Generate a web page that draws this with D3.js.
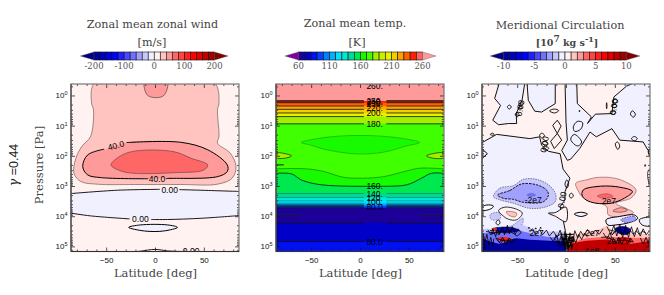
<!DOCTYPE html>
<html>
<head>
<meta charset="utf-8">
<script src="https://cdnjs.cloudflare.com/ajax/libs/d3/7.8.5/d3.min.js"></script>
<style>
  html, body { margin: 0; padding: 0; background: #fff; }
  svg { display: block; }
  .title { font-family: "DejaVu Serif", serif; fill: #444; text-anchor: middle; }
  .cbtick { font-family: "DejaVu Serif", serif; font-size: 8.5px; fill: #555; text-anchor: middle; }
  .tick text, .ylab { font-family: "Liberation Sans", sans-serif; font-size: 8px; fill: #111; }
  .clab { font-family: "Liberation Sans", sans-serif; font-size: 8.5px; fill: #000; text-anchor: middle; }
</style>
</head>
<body>
<div id="chart"></div>
<script>
// all contours are [latitude in deg, log10 of pressure in Pa]
const latMajor = [-50, 0, 50];
const latMinor = [-80, -70, -60, -40, -30, -20, -10, 10, 20, 30, 40, 60, 70, 80];
const logTicks = [0, 1, 2, 3, 4, 5];
const pressureMinor = [0.5, 2, 3, 4, 5, 6, 7, 8, 9, 20, 30, 40, 50, 60, 70, 80, 90, 200, 300, 400, 500, 600, 700, 800, 900,
  2000, 3000, 4000, 5000, 6000, 7000, 8000, 9000, 20000, 30000, 40000, 50000, 60000, 70000, 80000, 90000, 130000];

// colour bars
const windColors = ["#000080", "#0000a0", "#0000c0", "#0000e0", "#0000ff", "#2020ff", "#4848ff", "#7070ff", "#a0a0ff", "#c8c8ff", "#f0f0ff",
  "#fff2f0", "#ffc4c0", "#ff9a9a", "#ff6666", "#ff4444", "#ff2020", "#ff0000", "#e00000", "#c00000", "#a00000", "#800000"];
const windLevels = d3.range(-200, 201, 20);
const windTicks = [-200, -100, 0, 100, 200];
const circLevels = d3.range(-10, 11, 1);
const circTicks = [-10, -5, 0, 5, 10];
const tempLevels = d3.range(60, 261, 10);
const tempTicks = [60, 110, 160, 210, 260];
const tempColors = ["#8000a0", "#1c0098", "#0000c8", "#0010f0", "#0040ff", "#0080ff", "#00b0ff", "#00e0ff", "#00e8d0", "#00d8a0", "#00e850",
  "#18fa00", "#40ff00", "#a0f000", "#c8f000", "#e8f000", "#f0d000", "#ffa000", "#ff6000", "#ff2000", "#ff6060", "#ff9a9a"];

// zonal wind
const windPos20 = [[-61, -0.45], [-65, 0.25], [-63, 0.47], [-66, 1.36], [-75, 1.69], [-81, 2.08], [-83, 2.58], [-76, 2.85], [-59, 2.94], [-21, 2.95], [26, 2.95], [64, 2.94], [79, 2.74], [83, 2.36], [77, 1.91], [64, 1.58], [65.5, 1.36], [64, 0.47], [65.5, 0.25], [60, -0.45]];
const windPos40 = [[-28, 1.55], [26, 1.55], [54, 1.8], [74, 2.3], [74, 2.52], [64, 2.69], [13, 2.75], [-56, 2.72], [-69, 2.63], [-74, 2.36], [-69, 1.97], [-52, 1.8]];
const windPos40LineA = [[-29, 1.56], [26, 1.55], [54, 1.8], [74, 2.3], [74, 2.52], [64, 2.69], [13, 2.75], [11, 2.76]];
const windPos40LineB = [[-7, 2.76], [-56, 2.72], [-69, 2.63], [-74, 2.36], [-69, 1.97], [-52, 1.78]];
const windPos60 = [[-45, 2.3], [-33.5, 1.97], [-18, 1.83], [19, 1.86], [37, 2.08], [54, 2.3], [50, 2.47], [19, 2.56], [-21.5, 2.58], [-35, 2.5]];
const windTopLobe = [[-10.5, -0.45], [-8, -0.02], [0, 0.07], [9, 0], [12.6, -0.45]];
const windZeroUpper = [[-86, 3.25], [-38.5, 3.14], [6, 3.11], [47, 3.14], [86, 3.18]];
const windZeroLower = [[-86, 3.9], [-66, 3.99], [-28, 4.09], [13, 4.11], [47, 4.07], [86, 3.98]];
const windZeroLines = [
  [[-86, 3.25], [-38.5, 3.14], [5, 3.11]], [[25, 3.12], [47, 3.14], [86, 3.18]],
  [[-86, 3.9], [-66, 3.99], [-26, 4.09]], [[-4, 4.11], [13, 4.11], [47, 4.07], [86, 3.98]],
  [[-30, 5.2], [-15, 5.16], [0, 5.1], [13, 5.15], [28, 5.17]], [[47, 5.17], [86, 5.2]]
];
const windLens = [[-27, 4.37], [-15, 4.29], [13, 4.29], [23, 4.37], [9, 4.49], [-11, 4.49]];
const windLabels = ["40.0", "40.0", "0.00", "0.00", "0.00"];
const windLabelPos = [[-40, 1.66], [2, 2.78], [15, 3.12], [-15, 4.09], [37, 5.16]];

// temperature, flat bands: edge pressure and the value of the band under it
const tempEdgeLog = [0.18, 0.24, 0.35, 0.46, 0.58, 0.70, 0.94];
const tempEdgeValue = [245, 235, 225, 215, 205, 185, 175];
const tempDeepLog = [3.25, 3.38, 3.49, 3.57, 3.63, 3.67, 3.72, 4.22, 4.84];
const tempDeepValue = [145, 135, 125, 115, 105, 95, 65, 75, 85];
const tempWavy1 = [[-86, 2.43], [-55, 2.43], [-37, 2.52], [-17, 2.71], [3, 2.74], [24, 2.69], [48, 2.5], [61, 2.41], [86, 2.43]];
const tempWavy2 = [[-86, 2.58], [-70, 2.6], [-60, 2.8], [-44, 2.94], [-20, 3], [3, 3.01], [24, 3.01], [48, 2.96], [63, 2.74], [73, 2.58], [86, 2.58]];
const tempLens = [[-60, 1.56], [-27, 1.36], [27, 1.36], [61, 1.56], [48, 1.67], [24, 1.88], [-3, 1.94], [-34, 1.8], [-51, 1.64]];
const tempSideL = [[-86, 1.91], [-75, 1.94], [-70, 2], [-77, 2.08], [-86, 2.06]];
const tempSideR = [[86, 1.91], [73, 1.94], [68, 2], [75, 2.08], [86, 2.06]];
const tempStubs = [[[-86, 2.3], [-78, 2.3]], [[-86, 3.95], [-61, 3.95]], [[61, 3.95], [86, 3.95]]];
const tempLabels = ["260.", "250.", "240.", "230.", "220.", "200.", "180.", "160.", "140.", "120.", "100.", "80.0", "80.0"];
const tempLabelLog = [-0.3, 0.17, 0.22, 0.28, 0.42, 0.57, 0.95, 2.99, 3.25, 3.4, 3.53, 3.7, 4.85];

// meridional circulation, blue and red lobes
const circBlueA = [[-68, -0.45], [-73, 0.1], [-67, 0.33], [-75, 0.82], [-69, 0.97], [-59, 0.93], [-50.5, 0.93], [-51, 0.6], [-45, 0.16], [-42, -0.45]];
const circBlueB = [[-40, -0.45], [-38.6, 0.16], [-32, 0.52], [-25, 0.55], [-11, 0.27], [-11, -0.45]];
const circBlueC = [[-1, -0.45], [0, 0.88], [1.4, 1.48], [-4.4, 1.82], [1.4, 2.15], [4.8, 2.11], [14, 1.76], [24.6, 1.21], [31, 1.37], [47, 1.1], [55, 1.48], [79, 1.54], [84, 1.82], [88, 1.93], [88, -0.45], [72, -0.45], [62, -0.31], [49, 0.05], [47, 0.6], [30, 0.62], [22, 0.93], [26, 0.71], [11.6, 0.27], [11, -0.45]];
const circBlueD = [[-88, 1.6], [-71, 1.29], [-37, 1.43], [-27, 1.37], [-25, 1.65], [-18, 1.85], [-6, 1.93], [-3, 2.44], [4, 2.74], [-1, 3.19], [-1, 3.46], [-6, 3.68], [-4, 3.95], [0, 4.6], [0, 5.3], [-88, 5.3]];
const circLoops = [
  [[-60, 0.38], [-58, 0.32], [-56, 0.38], [-58, 0.45]], [[-48.5, 0.3], [-45.7, 0.21], [-43.7, 0.25], [-45.7, 0.35]],
  [[-49, 0.44], [-46.5, 0.37], [-44.7, 0.41], [-47, 0.48]], [[-52, 0.62], [-50, 0.57], [-48, 0.63], [-50, 0.71]],
  [[-77.5, 1.29], [-75.5, 1.25], [-73.4, 1.29], [-75.5, 1.32]], [[-17, 0.51], [-12, 0.45], [-7.5, 0.5], [-11.6, 0.58]],
  [[-13.6, 0.99], [-8.9, 0.82], [-5, 1.01], [-8.9, 1.26], [-15.7, 1.52], [-12, 1.76], [-4.4, 1.48], [-8.9, 1.26]],
  [[7.5, 1.04], [11.6, 0.86], [17, 0.9], [15, 1.12], [9, 1.19]], [[4.8, 1.45], [8.5, 1.29], [16, 1.54], [12.6, 1.67], [9, 1.63]],
  [[-27, 1.32], [-25, 1.25], [-22, 1.32], [-24.6, 1.41]], [[-24, 1.57], [-21.5, 1.51], [-18.4, 1.61], [-21, 1.67]],
  [[-24, 1.74], [-20.8, 1.68], [-17.7, 1.75], [-20.8, 1.82]], [[47.4, 0.22], [50, 0.11], [52.6, 0.16], [50, 0.28]],
  [[47, 0.35], [50, 0.29], [52, 0.34], [49.5, 0.41]], [[41.6, 0.24], [42, 0.33], [41.6, 0.44], [41.3, 0.33]],
  [[45.7, 0.57], [48.5, 0.49], [51, 0.55], [48.5, 0.63]], [[66, 0.62], [68, 0.51], [71, 0.62], [69, 0.72]],
  [[67, 1.43], [70, 1.36], [73, 1.43], [70, 1.5]], [[50.5, 1.6], [52.6, 1.54], [55, 1.67], [53, 1.79]],
  [[13.4, 0.5], [14.2, 0.5], [13.8, 0.54]], [[80.6, 2.3], [81.5, 2.3], [81, 2.35]],
  [[-71.7, 4.21], [-69, 4.12], [-67.6, 4.23], [-70, 4.29]], [[3.4, 3.3], [5.8, 3.24], [7.5, 3.33], [5, 3.4]],
  [[0.7, 2.8], [2.7, 2.91], [1, 3.07], [-1, 2.95]]
];
const circEdgeBlobs = [[[-88, 1.71], [-80.5, 1.93], [-88, 2.15]], [[88, 1.65], [84, 1.87], [88, 2.15]]];
const circNeg1 = [[-74.4, 3.35], [-67.5, 3.07], [-54, 2.99], [-43.7, 2.78], [-30, 2.78], [-18, 2.96], [-11, 3.24], [-11, 3.52], [-21.5, 3.7], [-37, 3.74], [-54, 3.57], [-67.5, 3.46]];
const circNeg2 = [[-70, 3.3], [-57.6, 3.15], [-45.4, 2.93], [-30, 2.96], [-20, 3.13], [-18, 3.3], [-23, 3.52], [-43.7, 3.54], [-54, 3.44], [-64, 3.41]];
const circNeg3 = [[-40, 3.3], [-36, 3.24], [-31, 3.3], [-36, 3.35]];
const circPos1 = [[12, 3.13], [10, 2.91], [20.5, 2.8], [34, 2.71], [54.6, 2.78], [71.7, 3.13], [66.5, 3.4], [51, 3.57], [62, 3.75], [69, 3.88], [55, 4.02], [43, 3.95], [42, 3.7], [30, 3.5], [18, 3.4]];
const circPos2 = [[16.4, 3.3], [17.7, 3.13], [30.7, 3.02], [51, 3.02], [68, 3.18], [60, 3.4], [46, 3.57], [30.7, 3.57], [20.5, 3.46]];
const circPos3 = [[32, 3.33], [43, 3.26], [48, 3.35], [39, 3.41]];
const circPos4 = [[48, 3.83], [56, 3.72], [63, 3.8], [56, 3.87]];
const circPinkLobe = [[-69, 3.81], [-62.5, 3.7], [-50.5, 3.77], [-44.7, 3.9], [-50.5, 4.12], [-59, 4.1], [-64, 4]];
const circPinkCore = [[-61, 3.85], [-50.5, 3.9], [-52, 4.02], [-59, 3.96]];
const circTongue = [[0, 3.7], [-11, 3.88], [-18, 3.9], [-11, 4], [0, 4.18]];
const circPaleL = [[-86, 3.7], [-81, 3.63], [-74.4, 3.66], [-76, 3.74], [-86, 3.81]];
const circDashL = [[[-78, 3.96], [-69, 3.88], [-67, 4.07], [-76, 4.12]], [[-61, 4.4], [-54, 4.29], [-44, 4.07], [-45.4, 4.29], [-57, 4.45]]];
const circEllipse = [[8.5, 3.93], [15.4, 3.87], [22, 3.93], [15.4, 4.01]];
const circWhiteLobe = [[41, 4.12], [54.6, 4.01], [70, 3.96], [73.4, 4.07], [65, 4.21], [51, 4.29], [42.7, 4.29]];
const circWhiteCore = [[56, 4.12], [70, 4.01], [71.7, 4.12], [61, 4.21]];
const circRightBlob = [[75, 4.12], [88, 4.05], [88, 4.31], [78, 4.29]];
const circRightTop = [[84, 2.5], [88, 2.4], [88, 3], [85, 2.9]];
const circBotBlue1 = [[-88, 4.4], [-67.6, 4.45], [-44, 4.29], [-26.6, 4.51], [0, 4.51], [0, 5.3], [-88, 5.3]];
const circBotBlue2 = [[-88, 4.57], [-71, 4.51], [-54, 4.37], [-44, 4.51], [-20, 4.68], [0, 4.73], [0, 5.3], [-88, 5.3]];
const circBotBlue3 = [[-88, 4.7], [-78, 4.84], [-67.6, 4.92], [-50.5, 4.73], [-37, 4.78], [0, 4.84], [0, 5.3], [-88, 5.3]];
const circBlueStrip = [[-76, 4.42], [-60, 4.36], [-48, 4.47], [-62, 4.55]];
const circRedPatches = [[[-70, 4.73], [-60, 4.7], [-55, 4.78], [-66, 4.83]], [[-76, 4.4], [-70, 4.42], [-72, 4.48]]];
const circBotRed1 = [[0, 4.73], [17, 4.56], [34, 4.43], [43, 4.29], [46, 4.51], [88, 4.62], [88, 5.3], [0, 5.3]];
const circBotRed2 = [[3.4, 4.9], [20.5, 4.73], [41, 4.68], [88, 4.73], [88, 5.3], [3.4, 5.3]];
const circBotRed3 = [[1.7, 4.98], [10, 4.87], [20.5, 4.81], [41, 4.77], [65, 4.92], [88, 4.81], [88, 5.3], [1.7, 5.3]];
const circRightBlue = [[50, 4.42], [58, 4.34], [66, 4.44], [63, 4.6], [53, 4.55]];
const circRightRed = [[53, 4.75], [66, 4.75], [66, 4.88], [56, 4.9]];
const circScribbles = [
  [[-80, 4.45], [-77, 4.62], [-75, 4.42], [-72, 4.68], [-70, 4.4], [-68, 4.6], [-65, 4.36], [-63, 4.62], [-60, 4.3], [-58, 4.58], [-55, 4.34], [-52, 4.6], [-49, 4.42], [-46, 4.55], [-50, 4.66], [-58, 4.48], [-66, 4.52], [-74, 4.56], [-82, 4.5]],
  [[-78, 4.48], [-74, 4.46], [-76, 4.6], [-71, 4.5], [-69, 4.62], [-66, 4.42], [-62, 4.56], [-60, 4.38], [-57, 4.52], [-54, 4.4], [-51, 4.52]],
  [[-72, 4.72], [-68, 4.88], [-65, 4.7], [-62, 4.9], [-58, 4.72], [-55, 4.86], [-52, 4.75], [-58, 4.8], [-66, 4.8], [-72, 4.72]],
  [[-70, 4.78], [-67, 4.92], [-64, 4.76], [-61, 4.95], [-59, 4.76], [-56, 4.9], [-53, 4.8]],
  [[-85, 4.55], [-83, 4.85], [-81, 4.6], [-79, 4.95], [-77, 4.7], [-75, 5], [-74, 4.75]],
  [[-38, 4.5], [-34, 4.42], [-31, 4.6], [-27, 4.44], [-24, 4.62], [-20, 4.46], [-17, 4.66], [-13, 4.5], [-9, 4.7], [-6, 4.46], [-3, 4.8], [-1, 4.5], [2, 4.95], [4, 4.55], [7, 4.85], [9, 4.48], [12, 4.72], [15, 4.5], [18, 4.66], [22, 4.44], [26, 4.62], [30, 4.46], [34, 4.6], [38, 4.42]],
  [[-16, 4.7], [-13, 4.84], [-10, 4.62], [-7, 4.9], [-5, 4.64], [-3, 5], [-1, 4.66], [1, 5.08], [3, 4.7], [5, 4.98], [7, 4.66], [10, 4.88], [13, 4.6], [16, 4.78], [19, 4.56], [22, 4.7]],
  [[-9, 4.8], [-6, 5], [-3, 4.72], [-1, 5.1], [1, 4.78], [3, 5.05], [6, 4.75], [-2, 4.62], [8, 4.6], [-6, 4.6], [-12, 4.74], [-8, 4.9]],
  [[-5, 4.55], [-2, 4.9], [0, 4.6], [2, 5.15], [4, 4.66], [6, 5.1], [8, 4.7], [-4, 4.76], [9, 4.82], [-4, 4.94], [7, 5]],
  [[42, 4.35], [46, 4.6], [49, 4.3], [52, 4.66], [55, 4.26], [58, 4.72], [61, 4.3], [64, 4.7], [67, 4.35], [70, 4.68], [73, 4.38], [76, 4.66], [79, 4.42], [82, 4.62], [85, 4.5]],
  [[44, 4.45], [50, 4.5], [47, 4.62], [54, 4.4], [57, 4.62], [60, 4.42], [62, 4.6], [66, 4.48], [69, 4.6], [72, 4.48], [75, 4.6], [78, 4.5], [82, 4.56]],
  [[38, 4.55], [42, 4.75], [45, 4.55], [48, 4.82], [44, 4.68], [36, 4.7]],
  [[48, 4.7], [51, 4.9], [54, 4.7], [57, 4.94], [60, 4.72], [63, 4.9], [66, 4.72], [69, 4.86], [62, 4.8], [52, 4.8]],
  [[76, 4.72], [79, 4.92], [82, 4.7], [84, 4.9], [86, 4.72]],
  [[-88, 4.62], [-84, 4.7], [-87, 4.82], [-83, 4.92], [-86, 5.05], [-82, 5.05]]
];
const circZeroDots = [[-38, 4.4], [-31, 4.42], [-26, 4.4]];
const circLabels = ["-2e7", "2e7", "2e7", "2e7", "2e7", "1e8"];
const circLabelPos = [[-33.5, 3.46], [44, 3.5], [-30, 4.55], [27, 4.56], [49, 4.82], [27, 5.15]];
const circRotLabels = ["0.00", "0.00", "0.00", "0.00"];
const circRotPos = [[-47, 0.42], [49, 0.38], [-22, 1.62], [-4, 3.46]];

const svg = d3.select("#chart").append("svg").attr("width", 664).attr("height", 295);

const panelH = [84, 251.5];
const y = d3.scaleLinear().domain([-0.38, 5.17]).range(panelH);
const windFill = d3.scaleThreshold().domain(windLevels).range(windColors);

function makePanel(left, id) {
  const x = d3.scaleLinear().domain([-86, 86]).range([left, left + 168]);
  svg.append("clipPath").attr("id", id).append("rect")
    .attr("x", left).attr("y", panelH[0]).attr("width", 168).attr("height", panelH[1] - panelH[0]);
  const g = svg.append("g").attr("clip-path", "url(#" + id + ")");
  const smooth = d3.line().x(d => x(d[0])).y(d => y(d[1])).curve(d3.curveCatmullRom.alpha(0.5));
  const smoothClosed = d3.line().x(d => x(d[0])).y(d => y(d[1])).curve(d3.curveCatmullRomClosed.alpha(0.5));
  const sharp = d3.line().x(d => x(d[0])).y(d => y(d[1]));
  return { x, g, smooth, smoothClosed, sharp };
}

function shape(p, pts, fill, sw, opts) {
  opts = opts || {};
  const gen = opts.sharp ? p.sharp : p.smoothClosed;
  p.g.append("path").attr("d", opts.sharp ? gen(pts) + "Z" : gen(pts))
    .attr("fill", fill).attr("stroke", sw ? (opts.stroke || "#000") : "none").attr("stroke-width", sw || 0)
    .attr("stroke-dasharray", opts.dash || null).attr("stroke-linejoin", "round");
}

function line(p, pts, sw, opts) {
  opts = opts || {};
  p.g.append("path").attr("d", (opts.sharp ? p.sharp : p.smooth)(pts))
    .attr("fill", "none").attr("stroke", opts.stroke || "#000").attr("stroke-width", sw)
    .attr("stroke-dasharray", opts.dash || null).attr("stroke-linejoin", "round");
}

function contourLabel(p, text, lat, lg, rot) {
  const t = p.g.append("text").attr("class", "clab").attr("x", p.x(lat)).attr("y", y(lg) + 3).text(text);
  if (rot) t.attr("transform", "rotate(" + rot + "," + p.x(lat) + "," + y(lg) + ")");
}

function drawAxes(p, left) {
  const x = p.x;
  const yLog = d3.scaleLog().domain([Math.pow(10, -0.38), Math.pow(10, 5.17)]).range(panelH);
  const ax = svg.append("g");
  ax.append("g").attr("transform", "translate(0," + panelH[1] + ")")
    .call(d3.axisBottom(x).tickValues(latMajor).tickSize(-4).tickPadding(6).tickFormat(d => d < 0 ? "\u2212" + Math.abs(d) : d));
  ax.append("g").attr("transform", "translate(0," + panelH[1] + ")")
    .call(d3.axisBottom(x).tickValues(latMinor).tickSize(-2).tickFormat(""));
  ax.append("g").attr("transform", "translate(0," + panelH[0] + ")")
    .call(d3.axisTop(x).tickValues(latMajor).tickSize(-4).tickFormat(""));
  ax.append("g").attr("transform", "translate(0," + panelH[0] + ")")
    .call(d3.axisTop(x).tickValues(latMinor).tickSize(-2).tickFormat(""));
  const majors = logTicks.map(d => Math.pow(10, d));
  const minors = pressureMinor.filter(d => d > 0.42 && d < 148000);
  [[d3.axisLeft, left], [d3.axisRight, left + 168]].forEach(([axisFn, pos]) => {
    ax.append("g").attr("transform", "translate(" + pos + ",0)").call(axisFn(yLog).tickValues(majors).tickSize(-4).tickFormat(""));
    ax.append("g").attr("transform", "translate(" + pos + ",0)").call(axisFn(yLog).tickValues(minors).tickSize(-2).tickFormat(""));
  });
  ax.selectAll(".domain").remove();
  ax.selectAll(".tick line").attr("stroke", "#111").attr("stroke-width", 0.7);
  logTicks.forEach(k => {
    const t = ax.append("text").attr("class", "ylab").attr("x", left - 3.5).attr("y", y(k) + 3).attr("text-anchor", "end");
    t.append("tspan").text("10");
    t.append("tspan").attr("dy", -3).attr("font-size", 5.5).text(k);
  });
  ax.append("rect").attr("x", left).attr("y", panelH[0]).attr("width", 168).attr("height", panelH[1] - panelH[0])
    .attr("fill", "none").attr("stroke", "#777").attr("stroke-width", 1.2);
  ax.append("path").attr("d", "M" + left + "," + panelH[0] + "V" + panelH[1] + "H" + (left + 168))
    .attr("fill", "none").attr("stroke", "#333").attr("stroke-width", 1);
  svg.append("text").attr("class", "title").attr("font-size", 11.5).attr("x", left + 84.5).attr("y", 277).text("Latitude [deg]");
}

function colorBar(x0, x1, levels, colors, ticks, tip) {
  const s = d3.scaleLinear().domain([levels[0], levels[levels.length - 1]]).range([x0, x1]);
  const top = 52, bot = 60, mid = 56;
  const g = svg.append("g");
  const step = levels[1] - levels[0];
  g.selectAll("rect").data(levels.slice(0, -1)).join("rect")
    .attr("x", d => s(d)).attr("y", top).attr("width", d => s(d + step) - s(d)).attr("height", bot - top)
    .attr("fill", (d, i) => colors[i + 1]).attr("stroke", "#111").attr("stroke-width", 0.6);
  g.append("path").attr("d", "M" + x0 + "," + top + "L" + (x0 - tip) + "," + mid + "L" + x0 + "," + bot + "Z")
    .attr("fill", colors[0]).attr("stroke", "#555").attr("stroke-width", 0.4);
  g.append("path").attr("d", "M" + x1 + "," + top + "L" + (x1 + tip) + "," + mid + "L" + x1 + "," + bot + "Z")
    .attr("fill", colors[colors.length - 1]).attr("stroke", "#555").attr("stroke-width", 0.4);
  g.selectAll("text").data(ticks).join("text").attr("class", "cbtick")
    .attr("x", d => s(d)).attr("y", 69).text(d => d);
}

// titles
function title(text, cx, base, size) {
  return svg.append("text").attr("class", "title").attr("font-size", size).attr("x", cx).attr("y", base).text(text);
}
title("Zonal mean zonal wind", 152.5, 28, 11.2);
title("[m/s]", 152, 46, 11.2);
title("Zonal mean temp.", 355, 27, 11.2);
title("[K]", 357, 46, 11.2);
title("Meridional Circulation", 560, 29, 11.2);
const unit = title("", 567, 46, 10).attr("font-weight", "bold").attr("font-size", 9.5);
unit.append("tspan").text("[10");
unit.append("tspan").attr("dy", -4).attr("font-size", 9).text("7");
unit.append("tspan").attr("dy", 4).text(" kg s");
unit.append("tspan").attr("dy", -4).attr("font-size", 8).text("-1");
unit.append("tspan").attr("dy", 4).text("]");

colorBar(94, 214.5, windLevels, windColors, windTicks, 13.5);
colorBar(298.5, 422.5, tempLevels, tempColors, tempTicks, 13.5);
colorBar(503.7, 626.3, circLevels, windColors, circTicks, 13.5);

// side labels
svg.append("text").attr("class", "title").attr("font-size", 11.5)
  .attr("transform", "translate(43,165) rotate(-90)").text("Pressure [Pa]");
const gamma = svg.append("text").attr("font-family", "'Liberation Sans', sans-serif").attr("font-size", 12.5).attr("fill", "#222")
  .attr("text-anchor", "middle").attr("transform", "translate(18,165) rotate(-90)");
gamma.append("tspan").attr("font-family", "'DejaVu Serif', serif").attr("font-style", "italic").text("\u03b3");
gamma.append("tspan").text(" =0.44");

// panel 1: zonal wind
const p1 = makePanel(71, "clipA");
p1.g.append("rect").attr("x", 71).attr("y", 84).attr("width", 168).attr("height", 168).attr("fill", windFill(10));
shape(p1, windPos20, windFill(30), 0.5, { stroke: "#333" });
shape(p1, windTopLobe, windFill(50), 0.6, { stroke: "#333" });
shape(p1, windPos40, windFill(50), 0);
line(p1, windPos40LineA, 1);
line(p1, windPos40LineB, 1);
shape(p1, windPos60, windFill(70), 0.5, { stroke: "#333" });
const bandPts = windZeroUpper.concat(windZeroLower.slice().reverse());
shape(p1, bandPts, windFill(-10), 0, { sharp: true });
shape(p1, windLens, windFill(-10), 1);
windZeroLines.forEach(a => line(p1, a, 0.9));
windLabels.forEach((d, i) => contourLabel(p1, d, windLabelPos[i][0], windLabelPos[i][1], i == 0 ? -15 : 0));
drawAxes(p1, 71);

// panel 2: temperature
const tempFill = d3.scaleThreshold().domain(tempLevels).range(tempColors);
const p2 = makePanel(276, "clipB");
const bandArea = d3.area().x(d => p2.x(d[0])).y0(panelH[1]).y1(d => y(d[1]));
p2.g.append("rect").attr("x", 276).attr("y", 84).attr("width", 168).attr("height", 168).attr("fill", tempFill(270));
const flatEdge = lg => [[-86, lg], [86, lg]];
tempEdgeLog.forEach((lg, i) => {
  p2.g.append("path").attr("d", bandArea(flatEdge(lg))).attr("fill", tempFill(tempEdgeValue[i]));
});
shape(p2, tempLens, tempFill(165), 0.4, { stroke: "#0a7000" });
shape(p2, tempSideL, tempFill(185), 0.8, { stroke: "#204000" });
shape(p2, tempSideR, tempFill(185), 0.8, { stroke: "#204000" });
p2.g.append("path").attr("d", bandArea.curve(d3.curveCatmullRom)(tempWavy1)).attr("fill", tempFill(165));
p2.g.append("path").attr("d", bandArea(tempWavy2)).attr("fill", tempFill(155));
bandArea.curve(d3.curveLinear);
tempDeepLog.forEach((lg, i) => {
  p2.g.append("path").attr("d", bandArea(flatEdge(lg))).attr("fill", tempFill(tempDeepValue[i]));
});
line(p2, tempWavy1, 0.5, { stroke: "#0a5000" });
line(p2, tempWavy2, 0.9, { stroke: "#032" });
tempEdgeLog.concat(tempDeepLog).forEach((lg, i) => {
  const dark = lg < 1 || lg > 3.6;
  const sw = lg == 0.18 ? 1.3 : (dark ? 0.8 : 0.5);
  const col = dark ? "#111" : "#064";
  [[[-86, lg], [4, lg]], [[27, lg], [86, lg]]].forEach(seg => line(p2, seg, sw, { sharp: true, stroke: col }));
});
tempStubs.forEach(seg => line(p2, seg, 1, { sharp: true, stroke: "#123" }));
tempLabels.forEach((d, i) => contourLabel(p2, d, 15, tempLabelLog[i]));
drawAxes(p2, 276);

// panel 3: circulation
const p3 = makePanel(482, "clipC");
p3.g.append("rect").attr("x", 482).attr("y", 84).attr("width", 168).attr("height", 168).attr("fill", windFill(10));
const paleBlue = windFill(-10);
[circBlueA, circBlueB, circBlueC, circBlueD].forEach(a => shape(p3, a, paleBlue, 1, { sharp: true, stroke: "#111" }));
circEdgeBlobs.forEach(a => shape(p3, a, windFill(10), 1, { sharp: true }));
circLoops.forEach(a => shape(p3, a, "none", 0.9, { sharp: a.length > 5 }));
shape(p3, circRightTop, paleBlue, 0.7);
shape(p3, circNeg1, windFill(-30), 0.6, { dash: "1.5,1", stroke: "#334" });
shape(p3, circNeg2, windFill(-50), 0.9, { dash: "2.5,1" });
shape(p3, circNeg3, windFill(-70), 0.3, { stroke: "#447" });
shape(p3, circPos1, windFill(30), 0.5, { stroke: "#633" });
shape(p3, circPos2, windFill(50), 1);
shape(p3, circPos3, windFill(70), 0.4, { stroke: "#633" });
shape(p3, circPos4, windFill(50), 0.5, { stroke: "#222" });
shape(p3, circPinkLobe, windFill(10), 0.8);
shape(p3, circPinkCore, windFill(30), 0.5, { stroke: "#633" });
shape(p3, circTongue, windFill(10), 0.9);
shape(p3, circPaleL, "#fff", 1);
circDashL.forEach(a => shape(p3, a, windFill(-30), 0.5, { dash: "1.5,1", stroke: "#334" }));
shape(p3, circBotBlue1, windFill(-30), 0, { sharp: true });
shape(p3, circBotBlue2, windFill(-70), 0, { sharp: true });
shape(p3, circBotBlue3, windFill(-190), 0, { sharp: true });
shape(p3, circBlueStrip, windFill(-150), 0.5);
circRedPatches.forEach(a => shape(p3, a, windFill(110), 0));
shape(p3, circBotRed1, windFill(30), 0, { sharp: true });
shape(p3, circEllipse, paleBlue, 1);
shape(p3, circWhiteLobe, paleBlue, 1);
shape(p3, circWhiteCore, windFill(-50), 0.5, { dash: "1.5,1" });
shape(p3, circRightBlob, paleBlue, 0.9);
shape(p3, circBotRed2, windFill(70), 0, { sharp: true });
shape(p3, circBotRed3, windFill(170), 0, { sharp: true });
shape(p3, circRightBlue, windFill(-170), 0.5);
shape(p3, circRightRed, windFill(130), 0.5);
circScribbles.forEach(a => line(p3, a, 0.8, { sharp: true, stroke: "#000" }));
circZeroDots.forEach(d => shape(p3, [[d[0] - 0.8, d[1]], [d[0], d[1] - 0.04], [d[0] + 0.8, d[1]]], "#000", 0.5, { sharp: true }));
circLabels.forEach((d, i) => contourLabel(p3, d, circLabelPos[i][0], circLabelPos[i][1]));
circRotLabels.forEach((d, i) => contourLabel(p3, d, circRotPos[i][0], circRotPos[i][1], -80));
drawAxes(p3, 482);
</script>
</body>
</html>
